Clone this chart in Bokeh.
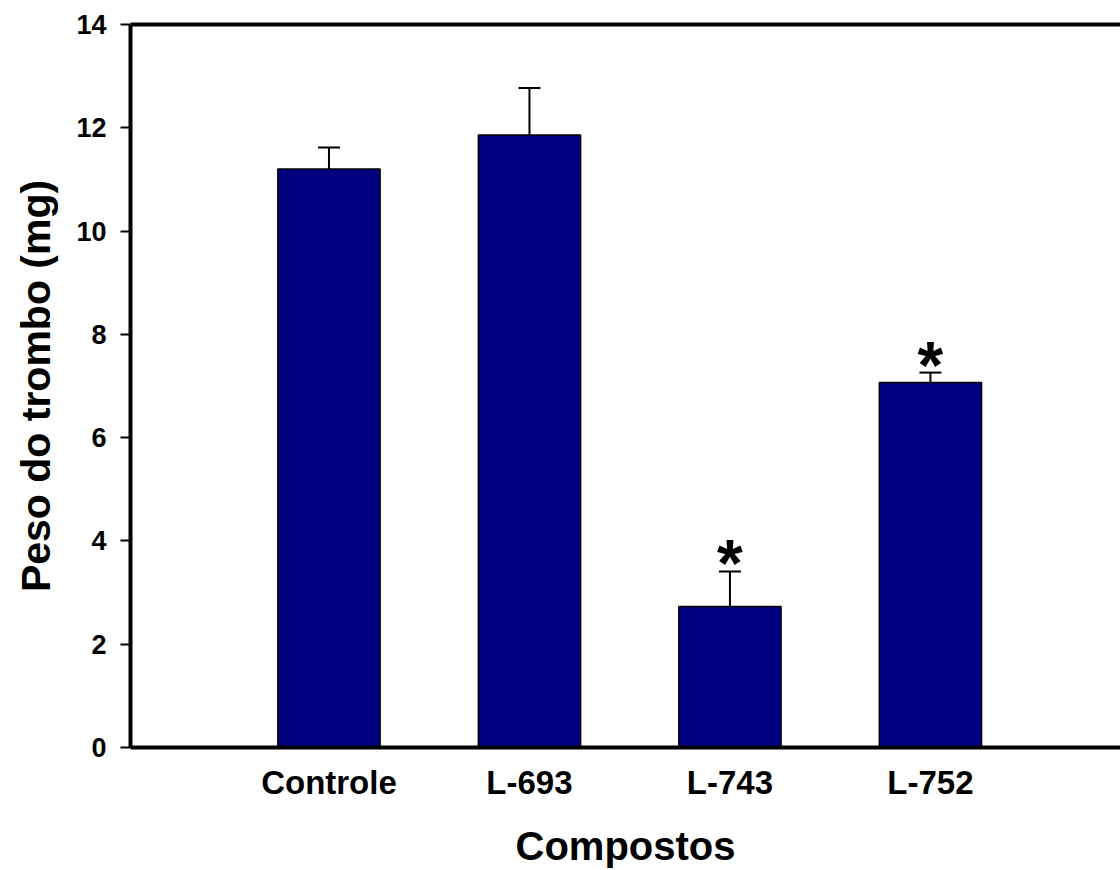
from bokeh.plotting import figure
from bokeh.models import Range1d, FixedTicker, LinearAxis, Whisker, ColumnDataSource, TeeHead
from bokeh.core.properties import value
from bokeh.embed import file_html
from bokeh.resources import INLINE

# Thrombus weight per compound (mean and upper SEM)
categories = ["Controle", "L-693", "L-743", "L-752"]
peso_mg = [11.2, 11.86, 2.73, 7.07]
erro_mg = [0.42, 0.91, 0.68, 0.19]
significativo = [False, False, True, True]
y_ticks = [0, 2, 4, 6, 8, 10, 12, 14]

FONT = "Liberation Sans"

xs = list(range(len(categories)))
src = ColumnDataSource(dict(
    x=xs,
    top=peso_mg,
    upper=[v + e for v, e in zip(peso_mg, erro_mg)],
))

p = figure(
    width=1120, height=870,
    x_range=Range1d(-0.99, 3.948), y_range=Range1d(0, 14),
    output_backend="svg", toolbar_location=None,
    min_border_left=130, min_border_bottom=123,
    min_border_top=24, min_border_right=0,
)
p.outline_line_color = None
p.grid.grid_line_color = None
p.background_fill_color = "white"
p.border_fill_color = "white"

p.vbar(x="x", top="top", bottom=0, width=0.51, source=src,
       fill_color="#000080", line_color="black", line_width=1.5)

p.add_layout(Whisker(
    source=src, base="x", lower="top", upper="upper",
    line_color="black", line_width=2,
    upper_head=TeeHead(size=22, line_color="black", line_width=2),
    lower_head=None, level="glyph",
))

# significance markers above the error bars
sx = [x for x, s in zip(xs, significativo) if s]
sy = [v + e for v, e, s in zip(peso_mg, erro_mg, significativo) if s]
p.text(x=sx, y=sy, text=["*"] * len(sx), text_align="center",
       text_baseline="alphabetic", y_offset=-8,
       text_font=value(FONT), text_font_style="bold",
       text_font_size="66px", text_color="black")

# y axis
ya = p.yaxis[0]
ya.ticker = FixedTicker(ticks=y_ticks)
ya.axis_line_width = 4
ya.major_tick_line_width = 2
ya.major_tick_in = 0
ya.major_tick_out = 10
ya.minor_tick_line_color = None
ya.major_label_standoff = 14
ya.major_label_text_font = FONT
ya.major_label_text_font_style = "bold"
ya.major_label_text_font_size = "27px"
ya.major_label_text_color = "black"
ya.axis_label = "Peso do trombo (mg)"
ya.axis_label_text_font = FONT
ya.axis_label_text_font_style = "bold"
ya.axis_label_text_font_size = "41px"
ya.axis_label_text_color = "black"
ya.axis_label_standoff = 14

# x axis
xa = p.xaxis[0]
xa.ticker = FixedTicker(ticks=xs)
xa.major_label_overrides = {i: c for i, c in zip(xs, categories)}
xa.axis_line_width = 4
xa.major_tick_line_color = None
xa.minor_tick_line_color = None
xa.major_tick_in = 0
xa.major_tick_out = 0
xa.major_label_standoff = 16
xa.major_label_text_font = FONT
xa.major_label_text_font_style = "bold"
xa.major_label_text_font_size = "33px"
xa.major_label_text_color = "black"
xa.axis_label = "Compostos"
xa.axis_label_text_font = FONT
xa.axis_label_text_font_style = "bold"
xa.axis_label_text_font_size = "40px"
xa.axis_label_text_color = "black"
xa.axis_label_standoff = 20

# top frame line
top = LinearAxis(ticker=FixedTicker(ticks=[]), axis_line_width=4,
                 major_tick_line_color=None, minor_tick_line_color=None)
p.add_layout(top, "above")

open("out.html", "w").write(file_html(p, INLINE))
